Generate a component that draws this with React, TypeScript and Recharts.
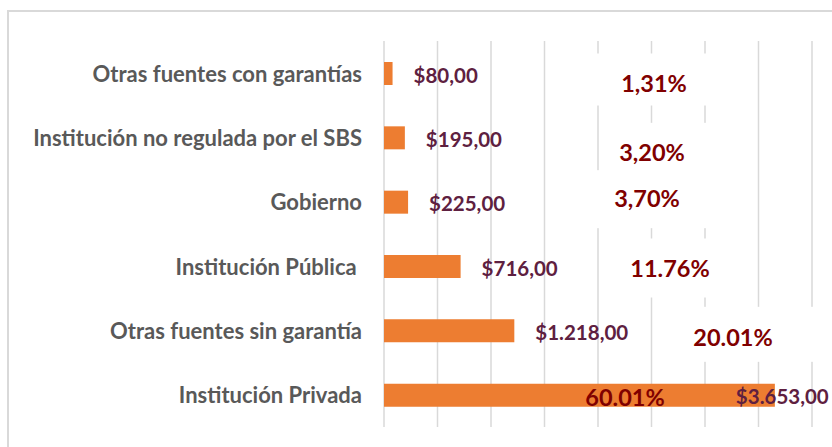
import { Bar, BarChart, CartesianGrid, LabelList, XAxis, YAxis } from 'recharts';

const categories = [
  'Otras fuentes con garantías',
  'Institución no regulada por el SBS',
  'Gobierno',
  'Institución Pública\u00A0',
  'Otras fuentes sin garantía',
  'Institución Privada',
];
const amounts = [80, 195, 225, 716, 1218, 3653];
const amountLabels = ['$80,00', '$195,00', '$225,00', '$716,00', '$1.218,00', '$3.653,00'];
const shareLabels = ['1,31%', '3,20%', '3,70%', '11.76%', '20.01%', '60.01%'];
const axisTicks = [0, 500, 1000, 1500, 2000, 2500, 3000, 3500, 4000];

const data = categories.map((name, i) => ({
  name,
  amount: amounts[i],
  amountLabel: amountLabels[i],
  share: shareLabels[i],
}));

const FONT = 'Lato, "Open Sans", sans-serif';
const GRID = '#D9D9D9';

// hand-placed share labels (as in the original sheet), with white backgrounds
const shareLayout = [
  { cx: 654, dy: 9, bx: -84, by: -29, bw: 170, bh: 52 },
  { cx: 652, dy: 14, bx: -50, by: -29, bw: 145, bh: 60 },
  { cx: 647, dy: -4, bx: -60, by: -28, bw: 160, bh: 58 },
  { cx: 670, dy: 1, bx: -65, by: -29, bw: 140, bh: 59 },
  { cx: 733, dy: 6, bx: -53, by: -30, bw: 150, bh: 55 },
  { cx: 625, dy: 2, bx: 0, by: 0, bw: 0, bh: 0 },
];

function CategoryTick(props: any) {
  const { x, y, payload } = props;
  return (
    <text
      x={x}
      y={y}
      textAnchor="end"
      dominantBaseline="central"
      fill="#595959"
      fontFamily={FONT}
      fontWeight={700}
      fontSize={22}
    >
      {payload.value}
    </text>
  );
}

function AmountLabel(props: any) {
  const { x, y, width, height, value, index } = props;
  const last = index === amounts.length - 1;
  const end = x + width;
  return (
    <text
      x={last ? end - 39 : end + 21}
      y={y + height / 2 + 1}
      dominantBaseline="central"
      fill="#5E2040"
      fontFamily={FONT}
      fontWeight={700}
      fontSize={20.5}
    >
      {value}
    </text>
  );
}

function ShareLabel(props: any) {
  const { y, height, value, index } = props;
  const l = shareLayout[index];
  const cy = y + height / 2 + l.dy;
  return (
    <g>
      {l.bw > 0 && <rect x={l.cx + l.bx} y={cy + l.by} width={l.bw} height={l.bh} fill="#fff" />}
      <text
        x={l.cx}
        y={cy}
        textAnchor="middle"
        dominantBaseline="central"
        fill="#800000"
        fontFamily={FONT}
        fontWeight={700}
        fontSize={23.5}
      >
        {value}
      </text>
    </g>
  );
}

export default function App() {
  return (
    <div
      style={{
        position: 'fixed',
        left: 0,
        top: 0,
        width: 832,
        height: 447,
        overflow: 'hidden',
        background: '#fff',
      }}
    >
      <div
        style={{
          position: 'absolute',
          left: 7,
          top: 10,
          width: 900,
          height: 500,
          borderLeft: `2px solid ${GRID}`,
          borderTop: `2px solid ${GRID}`,
        }}
      />
      <div style={{ position: 'absolute', left: 0, top: 0 }}>
        <BarChart
          width={900}
          height={447}
          data={data}
          layout="vertical"
          margin={{ top: 41, right: 88, bottom: 20, left: 0 }}
          barCategoryGap={20}
        >
          <CartesianGrid horizontal={false} stroke={GRID} strokeWidth={1.5} />
          <XAxis type="number" domain={[0, 4000]} ticks={axisTicks} hide />
          <YAxis
            type="category"
            dataKey="name"
            width={384}
            axisLine={false}
            tickLine={false}
            tickSize={0}
            tickMargin={22}
            tick={<CategoryTick />}
            interval={0}
          />
          <Bar dataKey="amount" fill="#ED7D31" barSize={23} isAnimationActive={false}>
            <LabelList dataKey="share" content={<ShareLabel />} />
            <LabelList dataKey="amountLabel" content={<AmountLabel />} />
          </Bar>
        </BarChart>
      </div>
    </div>
  );
}
